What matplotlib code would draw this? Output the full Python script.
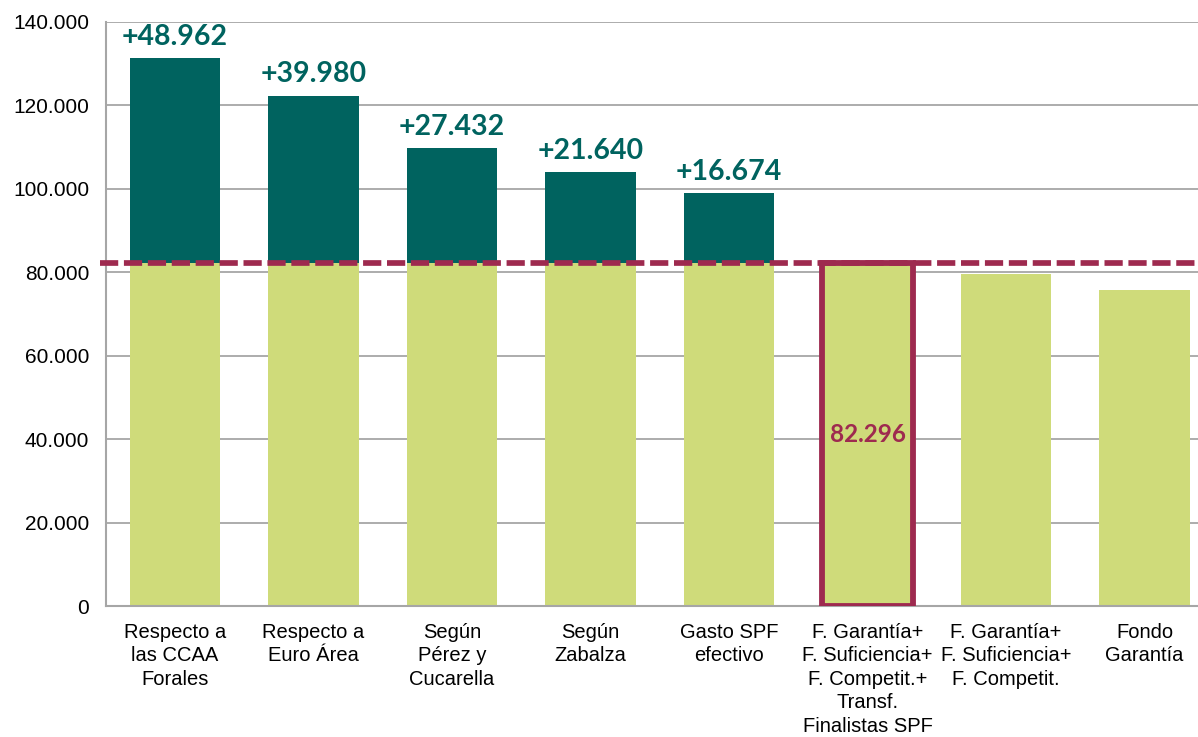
import matplotlib.pyplot as plt
import matplotlib.transforms as mtransforms
from matplotlib.ticker import FuncFormatter

# Data
categories = [
    "Respecto a\nlas CCAA\nForales",
    "Respecto a\nEuro Área",
    "Según\nPérez y\nCucarella",
    "Según\nZabalza",
    "Gasto SPF\nefectivo",
    "F. Garantía+\nF. Suficiencia+\nF. Competit.+\nTransf.\nFinalistas SPF",
    "F. Garantía+\nF. Suficiencia+\nF. Competit.",
    "Fondo\nGarantía",
]
base_values = [82296, 82296, 82296, 82296, 82296, 82296, 79660, 75800]
extra_values = [48962, 39980, 27432, 21640, 16674, 0, 0, 0]
reference_value = 82296
highlight_idx = 5

teal = "#00635F"
green = "#CFDB7A"
wine = "#9E2A4F"
grid_grey = "#A6A6A6"

plt.rcParams['font.family'] = ['Liberation Sans', 'DejaVu Sans']

fig = plt.figure(figsize=(11.98, 7.37), dpi=100)
ax = fig.add_axes([105.75 / 1198, 130.7 / 737, 1108 / 1198, 584.5 / 737])

x = list(range(len(categories)))
width = 0.65

ax.bar(x, base_values, width, color=green, zorder=2)
ax.bar(x[:5], extra_values[:5], width, bottom=base_values[:5], color=teal, zorder=2)

# highlighted bar outline
ax.bar(x[highlight_idx], base_values[highlight_idx], width, facecolor="none",
       edgecolor=wine, linewidth=4.2, zorder=3)

# labels on top segments
for i in range(5):
    ax.annotate("+" + f"{extra_values[i]:,}".replace(",", "."),
                xy=(x[i], base_values[i] + extra_values[i]),
                xytext=(0, 6), textcoords="offset points",
                ha="center", va="bottom", fontsize=20.5, fontweight="bold",
                color=teal, family=["Lato", "DejaVu Sans"])

ax.text(x[highlight_idx], base_values[highlight_idx] / 2,
        f"{base_values[highlight_idx]:,}".replace(",", "."),
        ha="center", va="center", fontsize=17.5, fontweight="bold",
        color=wine, family=["Lato", "DejaVu Sans"], zorder=4)

# dashed reference line
trans = mtransforms.blended_transform_factory(ax.transAxes, ax.transData)
ax.plot([-0.005, 1.0], [reference_value, reference_value], transform=trans,
        color=wine, linewidth=4.1, dashes=(3.2, 1.0), solid_capstyle="butt",
        dash_capstyle="butt", clip_on=False, zorder=5)

ax.set_xlim(-0.5, 7.5)
ax.set_ylim(0, 140000)
ax.set_yticks(range(0, 140001, 20000))
ax.yaxis.set_major_formatter(FuncFormatter(lambda v, p: f"{int(v):,}".replace(",", ".")))
ax.set_xticks(x)
ax.set_xticklabels(categories, fontsize=14.5, linespacing=1.3)
ax.tick_params(axis="y", length=0, pad=12, labelsize=15)
ax.tick_params(axis="x", length=0, pad=12)

ax.grid(axis="y", color=grid_grey, linewidth=1.3, zorder=0)
ax.set_axisbelow(True)
for side in ["top", "right"]:
    ax.spines[side].set_visible(False)
for side in ["left", "bottom"]:
    ax.spines[side].set_color(grid_grey)
    ax.spines[side].set_linewidth(1.5)

fig.savefig("out.png", dpi=100)
